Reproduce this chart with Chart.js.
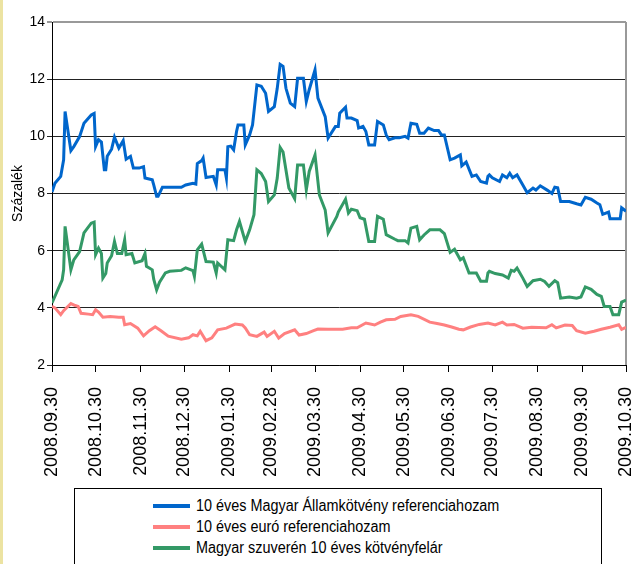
<!DOCTYPE html>
<html>
<head>
<meta charset="utf-8">
<script src="https://cdn.jsdelivr.net/npm/chart.js@4.4.1/dist/chart.umd.min.js"></script>
<style>
  body { margin: 0; background: #fff; font-family: "Liberation Sans", Arial, sans-serif; }
  #wrap { position: relative; width: 636px; height: 564px; overflow: hidden; background: #fff; }
  #strip { position: absolute; left: 0; top: 0; width: 3px; height: 564px; background: #ece3a2; }
  #chartBox { position: absolute; left: 0; top: 0; width: 636px; height: 482px; }
  #legend { position: absolute; left: 74px; top: 488px; width: 526px; height: 100px; border: 1px solid #000; }
  .row { position: absolute; left: 78px; height: 20px; font-size: 16px; line-height: 20px; white-space: nowrap; color: #000; }
  .row .swatch { display: inline-block; width: 37px; height: 4px; vertical-align: middle; margin-right: 6px; }
  .row .txt { display: inline-block; vertical-align: middle; transform: scaleX(0.9); transform-origin: left center; }
</style>
</head>
<body>
<div id="wrap">
  <div id="strip"></div>
  <div id="chartBox"><canvas id="myChart" width="636" height="482"></canvas></div>
  <div id="legend"></div>
</div>
<script>
// days counted from 2008.09.30
const tickDays = [0, 30, 61, 91, 122, 151, 181, 212, 242, 273, 303, 334, 365, 395];
const tickLabels = ["2008.09.30", "2008.10.30", "2008.11.30", "2008.12.30", "2009.01.30", "2009.02.28",
  "2009.03.30", "2009.04.30", "2009.05.30", "2009.06.30", "2009.07.30", "2009.08.30", "2009.09.30", "2009.10.30"];

const seriesNames = [
  "10 éves Magyar Államkötvény referenciahozam",
  "10 éves euró referenciahozam",
  "Magyar szuverén 10 éves kötvényfelár"
];

const blueDay = [0,2,6,8,9,13,15,19,22,27,29,30,32,34,36,37,38,41,43,46,49,51,54,56,60,63,64,69,70,72,73,76,89,92,97,99,
  100,103,104,106,111,113,114,119,120,121,123,125,127,128,132,133,136,138,141,144,147,149,153,155,157,159,161,164,167,169,
  173,175,177,181,183,188,190,195,197,198,202,203,206,210,211,214,216,218,222,224,228,230,232,236,239,243,245,247,251,253,
  256,259,263,266,268,270,274,277,281,282,285,289,292,295,299,300,301,303,308,310,313,315,317,320,324,327,331,333,336,341,
  344,346,348,350,356,361,364,367,371,375,377,379,383,384,391,392,395];
const blueValue = [8.05,8.36,8.6,9.18,10.87,9.5,9.64,9.99,10.46,10.75,10.8,9.64,9.88,9.8,8.83,8.83,9.3,9.55,9.97,9.59,9.85,9.2,9.3,8.89,8.89,8.94,8.54,8.48,8.3,7.9,7.9,8.22,8.22,8.3,8.36,8.33,
  9.05,9.15,9.24,8.56,8.6,8.3,8.83,8.83,8.54,9.64,9.66,9.53,10.17,10.4,10.4,9.7,10.05,10.4,11.8,11.75,11.51,10.87,11.04,11.68,12.52,12.45,11.68,11.16,11.04,12.03,
  12.03,11.22,11.63,12.33,11.34,10.69,9.94,10.34,10.34,10.81,11.02,10.64,10.64,10.55,10.29,10.35,10.17,9.7,9.7,10.52,10.4,10.05,9.88,9.95,9.95,10.0,9.94,10.46,10.42,10.11,
  10.11,10.29,10.2,10.2,10.05,10.05,9.18,9.24,9.35,8.97,9.1,8.6,8.65,8.42,8.36,8.6,8.65,8.55,8.42,8.65,8.55,8.71,8.55,8.65,8.3,8.03,8.19,8.12,8.27,8.11,
  8.0,8.22,8.2,7.72,7.72,7.64,7.6,7.87,7.8,7.67,7.61,7.27,7.35,7.12,7.12,7.5,7.38];

const redDay = [0,2,6,8,13,16,18,20,25,28,30,32,35,40,46,49,50,54,59,63,67,71,75,80,89,94,97,100,102,106,110,114,120,126,131,133,136,141,146,148,153,156,160,167,170,175,180,183,
  190,200,206,210,216,222,226,230,236,240,247,252,260,265,270,275,280,283,288,294,300,305,310,313,318,324,330,340,344,347,353,358,361,367,373,378,384,390,392,395];
const redValue = [4.05,4.0,3.76,3.9,4.15,4.08,4.05,3.81,3.78,3.76,3.93,3.85,3.67,3.7,3.67,3.67,3.41,3.45,3.29,3.02,3.2,3.34,3.2,3.01,2.9,2.95,3.06,3.02,3.18,2.85,2.95,3.23,3.29,3.43,3.4,3.3,3.06,3.0,3.15,3.0,3.18,2.94,3.1,3.23,3.05,3.1,3.2,3.26,
  3.25,3.25,3.3,3.3,3.47,3.4,3.5,3.58,3.6,3.7,3.76,3.7,3.5,3.45,3.4,3.33,3.25,3.23,3.33,3.42,3.47,3.4,3.5,3.4,3.42,3.29,3.32,3.3,3.41,3.3,3.4,3.38,3.2,3.11,3.18,3.25,3.32,3.41,3.25,3.32];

const greenDay = [0,7,8,9,13,15,19,22,27,29,30,32,34,35,37,38,41,43,45,48,50,51,55,57,62,64,65,69,70,72,74,78,81,89,92,97,98,
  100,103,106,111,113,114,119,121,125,127,129,133,136,139,141,144,147,149,153,155,157,159,163,167,169,173,175,177,181,184,188,190,196,197,
  202,204,206,210,212,215,218,222,224,228,230,236,238,243,245,247,251,253,256,260,267,270,274,277,281,283,287,292,295,299,300,301,305,310,
  314,316,318,320,324,327,331,336,339,342,346,348,350,356,361,364,367,371,375,378,380,384,386,390,392,395];
const greenValue = [4.17,4.98,5.33,6.85,5.33,5.68,5.97,6.62,6.96,7.0,5.86,6.09,5.9,5.04,5.2,5.57,5.82,6.32,5.9,5.9,6.38,5.86,5.9,5.57,5.65,5.9,5.45,5.33,5.0,4.63,4.9,5.22,5.28,5.31,5.4,5.3,5.1,
  6.03,6.23,5.62,5.6,5.22,5.57,5.33,6.38,6.35,6.73,7.02,6.32,6.73,7.26,8.83,8.7,8.42,7.72,7.95,8.54,9.61,9.45,8.19,7.82,9.0,9.0,8.13,8.77,9.35,7.95,7.42,6.62,7.2,7.35,
  7.8,7.32,7.45,7.4,7.15,7.1,6.32,6.32,7.2,7.1,6.56,6.4,6.35,6.35,6.27,6.79,6.85,6.38,6.55,6.73,6.73,6.6,5.94,6.05,5.68,5.75,5.22,5.22,4.93,4.93,5.22,5.28,5.2,5.15,
  5.04,5.31,5.28,5.39,5.04,4.75,4.95,5.0,4.92,4.75,4.95,4.88,4.34,4.38,4.34,4.38,4.73,4.65,4.47,4.4,4.05,4.05,3.76,3.76,4.2,4.27];

function toPoints(days, values) {
  return days.map((d, i) => ({ x: d, y: values[i] }));
}

// gray frame on the right side of the plot
const frameRight = {
  id: "frameRight",
  beforeDatasetsDraw(chart) {
    const { ctx, chartArea } = chart;
    ctx.save();
    ctx.strokeStyle = "#999";
    ctx.lineWidth = 2;
    ctx.beginPath();
    ctx.moveTo(chartArea.right, chartArea.top);
    ctx.lineTo(chartArea.right, chartArea.bottom);
    ctx.stroke();
    ctx.restore();
  }
};

const ctx = document.getElementById("myChart");
const chart = new Chart(ctx, {
  type: "line",
  data: {
    datasets: [
      { label: seriesNames[0], data: toPoints(blueDay, blueValue), borderColor: "#0066cc", borderWidth: 3, pointRadius: 0, tension: 0 },
      { label: seriesNames[1], data: toPoints(redDay, redValue), borderColor: "#ff8080", borderWidth: 3, pointRadius: 0, tension: 0 },
      { label: seriesNames[2], data: toPoints(greenDay, greenValue), borderColor: "#339966", borderWidth: 3, pointRadius: 0, tension: 0 }
    ]
  },
  options: {
    responsive: false,
    animation: false,
    layout: { padding: { top: 22, right: 10, left: 0, bottom: 0 } },
    plugins: { legend: { display: false }, tooltip: { enabled: false } },
    scales: {
      x: {
        type: "linear",
        min: 0,
        max: 395,
        afterBuildTicks: (axis) => { axis.ticks = tickDays.map((v) => ({ value: v })); },
        afterFit: (scale) => {
          scale.height = 117;
          scale.paddingLeft = 0;
          scale.paddingRight = 0;
        },
        ticks: {
          autoSkip: false,
          minRotation: 90,
          maxRotation: 90,
          padding: 15,
          color: "#000",
          font: { family: "'Liberation Sans', Arial, sans-serif", size: 18 },
          callback: (value) => tickLabels[tickDays.indexOf(value)]
        },
        grid: { drawOnChartArea: false, drawTicks: true, tickLength: 7, color: "#000" },
        border: { color: "#000", width: 1 }
      },
      y: {
        min: 2,
        max: 14,
        afterFit: (scale) => { scale.width = 52; },
        ticks: {
          stepSize: 2,
          padding: 2,
          color: "#000",
          font: { family: "'Liberation Sans', Arial, sans-serif", size: 14 }
        },
        grid: {
          color: (c) => (c.tick && c.tick.value === 14 ? "#999" : "#222"),
          lineWidth: (c) => (c.tick && c.tick.value === 14 ? 2 : 1),
          tickLength: 5
        },
        border: { color: "#000", width: 1 },
        title: {
          display: true,
          text: "Százalék",
          color: "#000",
          padding: { top: 10, bottom: 0 },
          font: { family: "'Liberation Sans', Arial, sans-serif", size: 14 }
        }
      }
    }
  },
  plugins: [frameRight]
});

// legend box built from the datasets
const legendEl = document.getElementById("legend");
chart.data.datasets.forEach((ds, i) => {
  const row = document.createElement("div");
  row.className = "row";
  row.style.top = (6 + i * 21) + "px";
  row.innerHTML = '<span class="swatch" style="background:' + ds.borderColor + '"></span><span class="txt">' + ds.label + "</span>";
  legendEl.appendChild(row);
});
</script>
</body>
</html>
